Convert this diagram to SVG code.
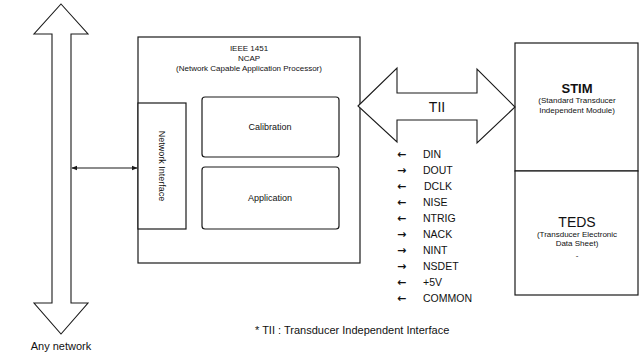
<svg xmlns="http://www.w3.org/2000/svg" width="640" height="355" viewBox="0 0 640 355">
  <style>
    .box { fill: #fff; stroke: #1a1a1a; stroke-width: 1.2; }
    .shape { fill: #fff; stroke: #1a1a1a; stroke-width: 1.1; stroke-linejoin: miter; }
    .line { fill: none; stroke: #1a1a1a; stroke-width: 1.2; }
    text { font-family: "Liberation Sans", Arial, sans-serif; fill: #111; }
    .small { font-size: 8px; }
    .label { font-size: 9px; }
    .sig { font-size: 10.5px; }
    .dir { font-family: "DejaVu Sans", sans-serif; font-size: 11px; font-weight: bold; }
    .mid { text-anchor: middle; }
  </style>
  <defs>
    <marker id="arr" viewBox="0 0 10 10" refX="9" refY="5" markerWidth="6" markerHeight="6" orient="auto-start-reverse" markerUnits="userSpaceOnUse">
      <path d="M0,1 L10,5 L0,9 z" fill="#1a1a1a"/>
    </marker>
  </defs>
  <rect width="640" height="355" fill="#fff"/>

  <!-- network backbone (double block arrow) -->
  <g id="network">
    <polygon class="shape" points="61,4 88,34 71,34 71,303 88,303 61,334 34,303 52,303 52,34 34,34"/>
    <text x="61" y="350" class="mid" style="font-size:11px">Any network</text>
  </g>

  <!-- NCAP -->
  <g id="ncap">
    <rect class="box" x="138" y="37" width="222" height="226"/>
    <text x="249" y="51" class="small mid">IEEE 1451</text>
    <text x="249" y="61" class="small mid">NCAP</text>
    <text x="249" y="71" class="small mid">(Network Capable Application Processor)</text>
  </g>

  <g id="network-interface">
    <rect class="box" x="138" y="103" width="48" height="126"/>
    <text class="label mid" transform="translate(159,166) rotate(90)">Network Interface</text>
  </g>

  <g id="calibration">
    <rect class="box" x="202" y="97" width="137" height="60" rx="3"/>
    <text x="270" y="130" class="label mid">Calibration</text>
  </g>

  <g id="application">
    <rect class="box" x="202" y="167" width="137" height="62" rx="3"/>
    <text x="270" y="201" class="label mid">Application</text>
  </g>

  <!-- STIM / TEDS -->
  <g id="stim">
    <rect class="box" x="515" y="43" width="123" height="128"/>
    <text x="577" y="93" class="mid" style="font-size:13px;font-weight:bold">STIM</text>
    <text x="577" y="103" class="small mid">(Standard Transducer</text>
    <text x="577" y="113" class="small mid">Independent Module)</text>
  </g>
  <g id="teds">
    <rect class="box" x="515" y="171" width="123" height="124"/>
    <text x="577" y="227" class="mid" style="font-size:14px">TEDS</text>
    <text x="577" y="237" class="small mid">(Transducer Electronic</text>
    <text x="577" y="246" class="small mid">Data Sheet)</text>
    <text x="577" y="258" class="small mid">-</text>
  </g>

  <!-- connectors -->
  <g id="connectors">
    <line class="line" x1="72" y1="168" x2="137" y2="168" marker-start="url(#arr)" marker-end="url(#arr)"/>
    <polygon class="shape" points="358,106 397,68 397,93 477,93 477,69 515,107 477,143 477,120 397,120 397,142"/>
    <text x="437" y="112" class="mid" style="font-size:14px">TII</text>
  </g>

  <!-- TII signal lines -->
  <g id="signals" class="sig">
    <text class="dir" x="397" y="158">←</text><text x="423" y="158">DIN</text>
    <text class="dir" x="397" y="174">→</text><text x="423" y="174">DOUT</text>
    <text class="dir" x="397" y="190">←</text><text x="424" y="190">DCLK</text>
    <text class="dir" x="397" y="206">←</text><text x="423" y="206">NISE</text>
    <text class="dir" x="397" y="222">←</text><text x="423" y="222">NTRIG</text>
    <text class="dir" x="397" y="238">→</text><text x="423" y="238">NACK</text>
    <text class="dir" x="397" y="254">→</text><text x="423" y="254">NINT</text>
    <text class="dir" x="397" y="270">→</text><text x="423" y="270">NSDET</text>
    <text class="dir" x="397" y="286">←</text><text x="423" y="286">+5V</text>
    <text class="dir" x="397" y="302">←</text><text x="423" y="302">COMMON</text>
  </g>

  <text x="255" y="334" style="font-size:11px">* TII : Transducer Independent Interface</text>
</svg>
